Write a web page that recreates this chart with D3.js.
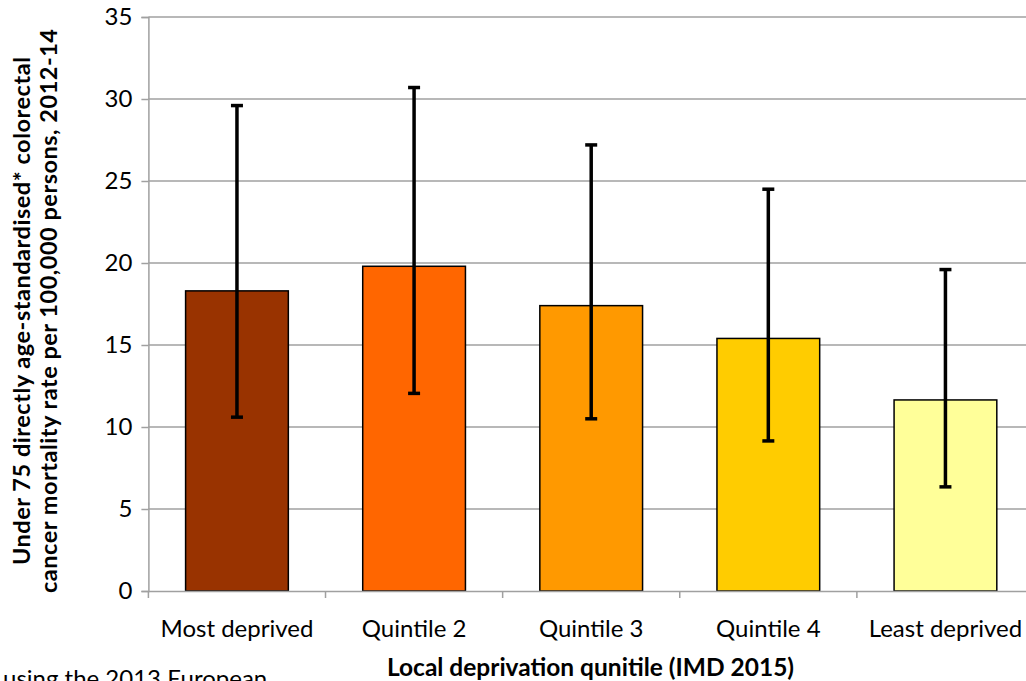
<!DOCTYPE html>
<html><head><meta charset="utf-8">
<script src="https://cdn.jsdelivr.net/npm/d3@7"></script>
<style>body{margin:0;background:#fff;overflow:hidden}svg{display:block}text{font-family:Lato,"Liberation Sans",sans-serif}</style>
</head><body>
<script>
const categories = ["Most deprived","Quintile 2","Quintile 3","Quintile 4","Least deprived"];
const rates = [18.3, 19.8, 17.4, 15.4, 11.65];
const lowerCI = [10.6, 12.05, 10.5, 9.15, 6.35];
const upperCI = [29.6, 30.7, 27.2, 24.5, 19.6];
const colors = ["#993300","#FF6600","#FF9900","#FFCC00","#FFFF99"];
const yTicks = [0,5,10,15,20,25,30,35];

const W=1026,H=681;
const svg=d3.select("body").append("svg").attr("width",W).attr("height",H);
const L=148.4, R=1034, T=17, B=591;
const x=d3.scaleBand().domain(categories).range([L,R]).paddingInner(0.42).paddingOuter(0.21);
const xb=d3.scaleBand().domain(categories).range([L,R]);
const y=d3.scaleLinear().domain([0,35]).range([B,T]);

// gridlines
svg.append("g").selectAll("line").data(yTicks.filter(d=>d>0)).join("line")
  .attr("x1",L).attr("x2",R).attr("y1",d=>y(d)).attr("y2",d=>y(d))
  .attr("stroke","#a0a0a0").attr("stroke-width",1.5);

// bars
svg.append("g").selectAll("rect").data(categories).join("rect")
  .attr("x",d=>x(d)).attr("width",x.bandwidth())
  .attr("y",(d,i)=>y(rates[i])).attr("height",(d,i)=>y(0)-y(rates[i]))
  .attr("fill",(d,i)=>colors[i]).attr("stroke","#000").attr("stroke-width",1.5);

// y axis
const ya=svg.append("g").attr("transform",`translate(${L},0)`)
  .call(d3.axisLeft(y).tickValues(yTicks).tickSize(7).tickPadding(9).tickFormat(d3.format("d")));
ya.select(".domain").attr("stroke","#a0a0a0").attr("stroke-width",1.5);
ya.selectAll(".tick line").attr("stroke","#a0a0a0").attr("stroke-width",1.5);
ya.selectAll(".tick text").attr("font-size",24).attr("fill","#000").attr("font-family","Lato");

// x axis
const xa=svg.append("g").attr("transform",`translate(0,${B})`)
  .call(d3.axisBottom(xb).tickSize(0));
xa.select(".domain").attr("stroke","#a0a0a0").attr("stroke-width",1.5);
xa.selectAll(".tick text").attr("font-size",24).attr("fill","#000").attr("font-family","Lato")
  .attr("y",46).attr("dy",0);
xa.append("g").selectAll("line").data(categories).join("line")
  .attr("x1",d=>xb(d)).attr("x2",d=>xb(d)).attr("y1",0).attr("y2",7)
  .attr("stroke","#a0a0a0").attr("stroke-width",1.5);

// error bars
const eb=svg.append("g").attr("stroke","#000").attr("stroke-width",3.5);
categories.forEach((c,i)=>{
  const cx=x(c)+x.bandwidth()/2;
  eb.append("line").attr("x1",cx).attr("x2",cx).attr("y1",y(upperCI[i])).attr("y2",y(lowerCI[i]));
  eb.append("line").attr("x1",cx-6).attr("x2",cx+6).attr("y1",y(upperCI[i])).attr("y2",y(upperCI[i]));
  eb.append("line").attr("x1",cx-6).attr("x2",cx+6).attr("y1",y(lowerCI[i])).attr("y2",y(lowerCI[i]));
});

// y title
const yt=svg.append("text").attr("transform","translate(0,311) rotate(-90)")
  .attr("text-anchor","middle").attr("font-weight","bold").attr("font-size",23.5);
yt.append("tspan").attr("x",0).attr("y",30).attr("textLength",508).attr("lengthAdjust","spacing")
  .text("Under 75 directly age-standardised* colorectal");
yt.append("tspan").attr("x",0).attr("y",57).attr("textLength",564).attr("lengthAdjust","spacing")
  .text("cancer mortality rate per 100,000 persons, 2012-14");

// x title
svg.append("text").attr("x",590.5).attr("y",676).attr("text-anchor","middle")
  .attr("font-weight","bold").attr("font-size",24.5).text("Local deprivation qunitile (IMD 2015)");

// footnote
svg.append("text").attr("x",3).attr("y",687).attr("font-size",24).text("using the 2013 European");
</script>
</body></html>
